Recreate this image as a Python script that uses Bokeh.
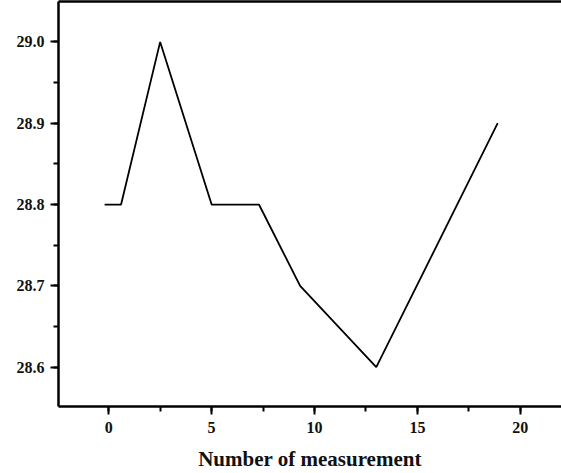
from bokeh.plotting import figure
from bokeh.models import SingleIntervalTicker, PrintfTickFormatter, LinearAxis, FixedTicker, Range1d
from bokeh.embed import file_html
from bokeh.resources import INLINE

# data
measurement = [-0.2, 0.6, 2.5, 5.0, 7.3, 9.3, 13.0, 18.9]
value = [28.8, 28.8, 29.0, 28.8, 28.8, 28.7, 28.6, 28.9]

FONT = "Liberation Serif"

p = figure(width=561, height=473, output_backend="svg", toolbar_location=None,
           x_range=Range1d(-2.44, 22.0), y_range=Range1d(28.5516, 29.0497),
           min_border_left=58, min_border_right=0, min_border_top=1, min_border_bottom=67,
           x_axis_label="Number of measurement")

p.line(measurement, value, line_color="black", line_width=1.8)

p.xgrid.visible = False
p.ygrid.visible = False
p.outline_line_color = None
p.background_fill_color = "white"
p.border_fill_color = "white"

p.xaxis.ticker = SingleIntervalTicker(interval=5, num_minor_ticks=2)
p.yaxis.ticker = SingleIntervalTicker(interval=0.1, num_minor_ticks=2)
p.yaxis.formatter = PrintfTickFormatter(format="%.1f")

for ax in (p.xaxis[0], p.yaxis[0]):
    ax.axis_line_width = 2.5
    ax.axis_line_color = "black"
    ax.major_tick_line_width = 2
    ax.minor_tick_line_width = 2
    ax.major_tick_line_color = "black"
    ax.minor_tick_line_color = "black"
    ax.major_tick_in = 0
    ax.minor_tick_in = 0
    ax.major_tick_out = 8
    ax.minor_tick_out = 5
    ax.major_label_text_font = FONT
    ax.major_label_text_font_style = "bold"
    ax.major_label_text_font_size = "16px"
    ax.major_label_text_color = "#111111"

p.yaxis.major_label_standoff = 6
p.xaxis.major_label_standoff = 7
p.xaxis.axis_label_text_font = FONT
p.xaxis.axis_label_text_font_style = "bold"
p.xaxis.axis_label_text_font_size = "21px"
p.xaxis.axis_label_text_color = "#111111"
p.xaxis.axis_label_standoff = 11

top = LinearAxis(ticker=FixedTicker(ticks=[]), axis_line_width=2.5, axis_line_color="black",
                 major_tick_out=0, major_tick_in=0, minor_tick_out=0, minor_tick_in=0,
                 major_label_standoff=0, major_label_text_font_size="0px")
p.add_layout(top, "above")

open("out.html", "w").write(file_html(p, INLINE))
